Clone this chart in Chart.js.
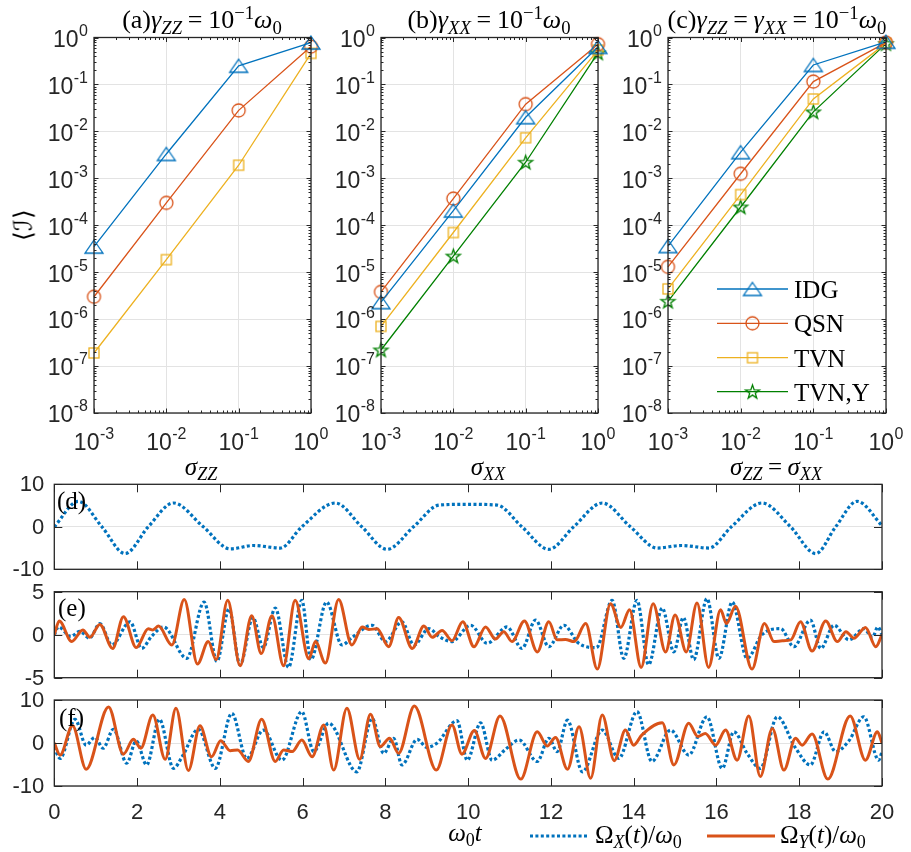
<!DOCTYPE html>
<html><head><meta charset="utf-8">
<script src="https://cdn.jsdelivr.net/npm/chart.js@4/dist/chart.umd.min.js"></script>
<style>
html,body{margin:0;padding:0;background:#fff;}
#wrap{position:relative;width:911px;height:852px;overflow:hidden;background:#fff;}
canvas{position:absolute;left:0;top:0;}
.t{position:absolute;font-family:"Liberation Serif","Times New Roman",serif;color:#000;white-space:nowrap;line-height:1;z-index:5;font-size:25px;}
.c{transform:translate(-50%,-50%);}
.l{transform:translate(0,-50%);}
.i{font-style:italic;}
.sb{font-size:72%;position:relative;top:0.3em;}
.sp{font-size:72%;position:relative;top:-0.5em;}
.eq{padding:0 0.22em;}
</style></head><body><div id="wrap">
<canvas id="ca" width="911" height="852"></canvas>
<canvas id="cb" width="911" height="852"></canvas>
<canvas id="cc" width="911" height="852"></canvas>
<canvas id="cd" width="911" height="852"></canvas>
<canvas id="ce" width="911" height="852"></canvas>
<canvas id="cf" width="911" height="852"></canvas>

<div class="t c" style="left:202px;top:20px;font-size:26px;">(a)<span class="i">γ</span><span class="sb i">ZZ</span><span class="eq">=</span>10<span class="sp">−1</span><span class="i">ω</span><span class="sb">0</span></div>
<div class="t c" style="left:489px;top:20px;font-size:26px;">(b)<span class="i">γ</span><span class="sb i">XX</span><span class="eq">=</span>10<span class="sp">−1</span><span class="i">ω</span><span class="sb">0</span></div>
<div class="t c" style="left:777px;top:20px;font-size:26px;">(c)<span class="i">γ</span><span class="sb i">ZZ</span><span class="eq">=</span><span class="i">γ</span><span class="sb i">XX</span><span class="eq">=</span>10<span class="sp">−1</span><span class="i">ω</span><span class="sb">0</span></div>
<div class="t c" style="left:23px;top:225px;font-size:25px;transform:translate(-50%,-50%) rotate(-90deg);">⟨ℐ⟩</div>
<div class="t c" style="left:201px;top:466px;"><span class="i">σ</span><span class="sb i">ZZ</span></div>
<div class="t c" style="left:488px;top:466px;"><span class="i">σ</span><span class="sb i">XX</span></div>
<div class="t c" style="left:776px;top:466px;"><span class="i">σ</span><span class="sb i">ZZ</span><span class="eq">=</span><span class="i">σ</span><span class="sb i">XX</span></div>
<div class="t l" style="left:794px;top:289px;">IDG</div>
<div class="t l" style="left:794px;top:323px;">QSN</div>
<div class="t l" style="left:794px;top:358px;">TVN</div>
<div class="t l" style="left:794px;top:392px;">TVN,Y</div>
<div class="t l" style="left:57px;top:500px;">(d)</div>
<div class="t l" style="left:58px;top:607px;">(e)</div>
<div class="t l" style="left:59px;top:717px;">(f)</div>
<div class="t c" style="left:465px;top:832px;"><span class="i">ω</span><span class="sb">0</span><span class="i">t</span></div>
<div class="t l" style="left:595px;top:834px;">Ω<span class="sb i">X</span>(<span class="i">t</span>)/<span class="i">ω</span><span class="sb">0</span></div>
<div class="t l" style="left:780px;top:834px;">Ω<span class="sb i">Y</span>(<span class="i">t</span>)/<span class="i">ω</span><span class="sb">0</span></div>
</div>
<script>
// ---------------- data ----------------
const sigma = [1e-3, 1e-2, 1e-1, 1];
const seriesNames = ['IDG', 'QSN', 'TVN', 'TVN,Y'];
const aIDG = [3.5e-5, 3.3e-3, 0.25, 0.78];
const aQSN = [3.0e-6, 3.0e-4, 0.028, 0.64];
const aTVN = [1.9e-7, 1.85e-5, 1.9e-3, 0.46];
const bIDG = [2.3e-6, 2.05e-4, 0.020, 0.63];
const bQSN = [3.8e-6, 3.7e-4, 0.038, 0.72];
const bTVN = [7.0e-7, 7.0e-5, 7.3e-3, 0.54];
const bTVNY = [2.2e-7, 2.2e-5, 2.2e-3, 0.47];
const cIDG = [3.6e-5, 3.6e-3, 0.26, 0.81];
const cQSN = [1.3e-5, 1.25e-3, 0.115, 0.78];
const cTVN = [4.4e-6, 4.5e-4, 0.049, 0.75];
const cTVNY = [2.4e-6, 2.45e-4, 0.026, 0.74];
const logYExps = [-8, -7, -6, -5, -4, -3, -2, -1, 0];
const logXExps = [-3, -2, -1, 0];
const timeTicks = [0, 2, 4, 6, 8, 10, 12, 14, 16, 18, 20];

// (d) Omega_X
const tD = [0, 0.58, 1.15, 1.71, 2.27, 2.88, 3.6, 4.25, 4.81, 5.46, 5.98, 6.79, 7.43, 8.04, 8.68, 9.3, 10.0, 10.7, 11.3, 11.95, 12.55, 13.24, 13.92, 14.57, 15.15, 15.82, 16.36, 17.1, 17.79, 18.4, 18.88, 19.4, 20];
const xD = [0, 6.0, 0, -6.3, 0, 5.6, 0, -5.2, -4.4, -5.0, 0, 5.6, 0, -5.3, 0, 5.1, 5.3, 5.1, 0, -5.3, 0, 5.6, 0, -5.0, -4.4, -5.0, 0, 5.6, 0, -6.3, 0, 6.0, 0.3];

// (e) Omega_X (dotted) and Omega_Y (solid)
const tEX = [0, 0.1, 0.4, 0.62, 0.85, 1.1, 1.39, 1.83, 2.11, 2.35, 2.64, 3.2, 3.62, 3.93, 4.22, 4.49, 4.8, 5.05, 5.34, 5.66, 5.98, 6.2, 6.58, 6.95, 7.2, 7.68, 8.0, 8.4, 8.69, 9.05, 9.3, 9.6, 10.06, 10.46, 10.94, 11.3, 11.63, 11.95, 12.31, 12.67, 13.1, 13.48, 13.76, 14.08, 14.36, 14.69, 14.97, 15.2, 15.45, 15.77, 16.06, 16.38, 16.74, 17.1, 17.55, 17.87, 18.27, 18.52, 18.84, 19.2, 19.56, 19.77, 19.9, 20];
const eX = [0, 0.9, -0.2, 0.4, -0.4, 1.3, -1.2, 1.5, -1.6, -0.2, 0.9, -2.75, 3.8, -3.1, 3.0, -3.5, 2.0, -1.5, 3.1, -3.8, 4.0, -2.9, 3.8, -1.2, -0.3, 1.1, -0.8, 1.5, -1.2, 0.7, -0.2, -0.8, 1.1, -1.0, 0.9, -1.6, 1.7, -1.4, 1.1, -1.0, -1.5, 4.0, -2.75, 4.0, -3.5, 3.1, -2.0, 2.0, -2.9, 4.2, -2.75, 3.8, -2.75, 0.0, 0.7, -1.4, 1.7, -1.6, 1.1, -0.6, 0.7, -0.3, 0.9, 0];
const tEY = [0, 0.12, 0.42, 0.69, 0.86, 1.1, 1.41, 1.67, 1.98, 2.27, 2.38, 2.52, 2.84, 3.14, 3.46, 3.72, 3.91, 4.19, 4.49, 4.77, 5.0, 5.26, 5.54, 5.82, 6.15, 6.31, 6.55, 6.87, 7.19, 7.44, 7.6, 7.8, 8.08, 8.32, 8.65, 8.93, 9.13, 9.37, 9.61, 9.87, 10.14, 10.42, 10.66, 10.86, 11.06, 11.36, 11.67, 11.95, 12.15, 12.35, 12.56, 12.84, 13.12, 13.44, 13.69, 13.9, 14.18, 14.47, 14.77, 15.0, 15.27, 15.53, 15.81, 16.1, 16.24, 16.46, 16.86, 17.16, 17.39, 17.59, 17.8, 18.03, 18.31, 18.64, 18.92, 19.13, 19.32, 19.6, 19.85, 20];
const eY = [0, 1.6, -0.8, 0.55, -0.3, 1.2, -1.6, 2.1, -1.5, 0.7, 0.55, 1.0, -1.2, 4.1, -3.4, -0.8, -2.9, 4.0, -3.6, 2.2, -2.2, 2.2, -3.6, 4.0, -2.8, -0.8, -3.3, 4.1, -1.2, 0.9, 0.6, 0.7, -1.4, 2.0, -1.6, 1.0, -0.3, 0.5, -0.7, 1.5, -1.4, 0.9, -0.5, 0.35, -0.8, 1.6, -2.0, 1.5, -0.6, -0.55, -0.8, 1.3, -4.0, 3.6, 0.85, 2.9, -3.8, 3.6, -2.0, 2.3, -2.0, 3.7, -3.8, 2.9, 1.3, 3.3, -4.0, 1.3, -0.8, -0.7, -0.6, 1.5, -1.9, 1.6, -0.8, 0.35, -0.4, 0.85, -1.4, 0];

// (f) Omega_X (dotted) and Omega_Y (solid)
const tFX = [0, 0.14, 0.5, 0.77, 0.98, 1.18, 1.43, 1.75, 1.98, 2.23, 2.54, 2.88, 3.1, 3.48, 3.89, 4.29, 4.65, 5.05, 5.5, 5.98, 6.27, 6.63, 7.31, 7.68, 7.96, 8.2, 8.4, 8.77, 9.0, 9.25, 9.73, 9.98, 10.3, 10.58, 10.9, 11.23, 11.67, 11.95, 12.15, 12.4, 12.76, 13.24, 13.64, 14.08, 14.44, 14.89, 15.33, 15.77, 16.14, 16.42, 16.74, 17.06, 17.47, 17.9, 18.27, 18.6, 18.88, 19.2, 19.56, 19.92, 20];
const fX = [-1.0, -3.6, 5.5, -0.5, 1.3, -1.2, 3.2, -4.7, 0.5, -5.1, 5.5, -5.9, -3.0, 3.2, -5.9, 6.9, -3.6, 3.0, -4.0, 7.3, -2.0, 4.6, -6.7, 5.7, -2.4, 1.1, -5.1, 0.85, -1.0, 0.0, 5.2, -4.0, 4.7, -4.0, -1.5, 0.7, -4.3, 1.1, -2.0, 5.3, -6.7, 3.0, -3.6, 7.3, -4.3, 3.0, -2.8, 6.1, -5.9, 2.6, -2.4, -5.9, 6.1, -1.0, -5.1, 2.6, -2.0, 0.5, 6.1, -4.0, -2.0];
const tFY = [0, 0.14, 0.44, 0.77, 1.31, 1.67, 1.91, 2.09, 2.38, 2.68, 2.94, 3.24, 3.52, 3.8, 4.02, 4.25, 4.43, 4.69, 5.01, 5.34, 5.54, 5.75, 5.98, 6.23, 6.51, 6.75, 7.07, 7.38, 7.64, 7.88, 8.1, 8.32, 8.7, 9.23, 9.61, 9.85, 10.15, 10.42, 10.77, 11.27, 11.67, 11.91, 12.11, 12.4, 12.68, 12.96, 13.24, 13.53, 13.8, 14.0, 14.2, 14.69, 14.97, 15.33, 15.55, 15.73, 15.98, 16.22, 16.5, 16.78, 17.06, 17.35, 17.63, 17.91, 18.07, 18.31, 18.69, 19.23, 19.6, 19.89, 20];
const fY = [0, -2.8, 4.0, -6.1, 8.4, -2.6, 0.85, -1.2, 6.5, -3.8, 8.1, -6.4, 4.0, -3.2, 0.5, -1.8, -1.6, -4.3, 5.5, -4.3, -1.6, -2.0, 0.7, -3.2, 4.2, -6.3, 8.1, -3.8, 6.7, -0.85, 1.1, -2.4, 8.6, -6.3, 4.2, -2.6, 2.9, -3.6, 6.3, -8.4, 2.6, -0.7, 1.3, -6.1, 3.8, -8.2, 6.5, -4.1, 3.0, -0.5, 1.9, 4.7, -5.1, 4.6, 1.5, 2.2, -0.5, 3.0, -4.0, 6.3, -7.8, 3.4, -6.3, 1.1, -0.5, 2.1, -8.4, 6.3, -4.0, 2.6, 0];

// ---------------- styling ----------------
const BLUE = '#0072BD', RED = '#D95319', YEL = '#EDB120', GRN = '#008000';
const GRID = '#e3e3e3', AXC = '#262626';
const SANS = "'Liberation Sans', Arial, sans-serif";
const W = 911, H = 852;
const BOX = {
  ca: {l: 94, r: 311, t: 37.5, b: 413},
  cb: {l: 381, r: 598, t: 37.5, b: 413},
  cc: {l: 668, r: 886, t: 37.5, b: 413},
  cd: {l: 54.3, r: 882, t: 484.3, b: 569.3},
  ce: {l: 54.3, r: 882, t: 591.7, b: 677.7},
  cf: {l: 54.3, r: 882, t: 700, b: 786}
};

function mk(w, h, draw) { const c = document.createElement('canvas'); c.width = w; c.height = h; const g = c.getContext('2d'); draw(g); return c; }
const markTri = mk(22, 17, g => { g.strokeStyle = BLUE; g.lineWidth = 1.3; g.beginPath(); g.moveTo(11, 2); g.lineTo(20, 15); g.lineTo(2, 15); g.closePath(); g.stroke(); });
const markCirc = mk(17, 17, g => { g.strokeStyle = RED; g.lineWidth = 1.3; g.beginPath(); g.arc(8.5, 8.5, 6.5, 0, Math.PI * 2); g.stroke(); });
const markSq = mk(14, 14, g => { g.strokeStyle = YEL; g.lineWidth = 1.3; g.strokeRect(2, 2, 10, 10); });
const markStar = mk(19, 19, g => {
  g.strokeStyle = GRN; g.lineWidth = 1.3; g.beginPath();
  for (let k = 0; k < 10; k++) { const r = k % 2 ? 2.9 : 7.3; const ang = -Math.PI / 2 + k * Math.PI / 5; const x = 9.5 + r * Math.cos(ang), y = 10 + r * Math.sin(ang); k ? g.lineTo(x, y) : g.moveTo(x, y); }
  g.closePath(); g.stroke();
});
const STY = {IDG: [BLUE, markTri], QSN: [RED, markCirc], TVN: [YEL, markSq], 'TVN,Y': [GRN, markStar]};

function decadeTicks(exps) { return exps.map(e => Math.pow(10, e)); }
function minorTicks(e0, e1) { const r = []; for (let e = e0; e < e1; e++) for (let k = 2; k <= 9; k++) r.push(k * Math.pow(10, e)); return r; }

function drawPow(ctx, exp, x, y, align) {
  const bf = '23px ' + SANS, ef = '16px ' + SANS;
  ctx.font = bf; const bw = ctx.measureText('10').width;
  const es = String(exp);
  ctx.font = ef; const ew = ctx.measureText(es).width;
  const tw = bw + ew + 0.5;
  const x0 = align === 'right' ? x - tw : x - tw / 2;
  ctx.textAlign = 'left'; ctx.textBaseline = 'middle';
  ctx.font = bf; ctx.fillText('10', x0, y);
  ctx.font = ef; ctx.fillText(es, x0 + bw + 0.5, y - 9);
}

const FRAME = {};
const EXTRA = {};
const framePlugin = {
  id: 'frame',
  afterDraw(chart) {
    const o = FRAME[chart.canvas.id]; if (!o) return;
    const c = chart.ctx, a = chart.chartArea, xs = chart.scales.x, ys = chart.scales.y;
    c.save();
    c.strokeStyle = AXC; c.lineWidth = 1;
    c.beginPath();
    const xt = (vals, len) => vals.forEach(v => { const p = Math.round(xs.getPixelForValue(v)) + 0.5; c.moveTo(p, a.bottom); c.lineTo(p, a.bottom - len); c.moveTo(p, a.top); c.lineTo(p, a.top + len); });
    const yt = (vals, len) => vals.forEach(v => { const p = Math.round(ys.getPixelForValue(v)) + 0.5; c.moveTo(a.left, p); c.lineTo(a.left + len, p); c.moveTo(a.right, p); c.lineTo(a.right - len, p); });
    xt(o.xMajor, o.majLen); yt(o.yMajor, o.majLen);
    if (o.xMinor) xt(o.xMinor, o.minLen);
    if (o.yMinor) yt(o.yMinor, o.minLen);
    c.stroke();
    c.lineWidth = 1.3; c.strokeRect(a.left, a.top, a.right - a.left, a.bottom - a.top);
    c.fillStyle = AXC;
    if (o.log) {
      o.yMajor.forEach(v => drawPow(c, Math.round(Math.log10(v)), a.left - 6, ys.getPixelForValue(v) + 3, 'right'));
      o.xMajor.forEach(v => drawPow(c, Math.round(Math.log10(v)), xs.getPixelForValue(v), a.bottom + 31, 'center'));
    } else {
      c.font = '22px ' + SANS; c.textAlign = 'right'; c.textBaseline = 'middle';
      o.yMajor.forEach(v => c.fillText(String(v), a.left - 10, ys.getPixelForValue(v) + 1));
      if (o.xLabels) { c.textAlign = 'center'; o.xMajor.forEach(v => c.fillText(String(v), xs.getPixelForValue(v), a.bottom + 27)); }
    }
    if (EXTRA[chart.canvas.id]) EXTRA[chart.canvas.id](c, a);
    c.restore();
  }
};

function baseOpts(id) {
  const b = BOX[id];
  return {
    responsive: false, animation: false, devicePixelRatio: 1, events: [],
    layout: {autoPadding: false, padding: {left: b.l, top: b.t, right: W - b.r, bottom: H - b.b}},
    plugins: {legend: {display: false}, tooltip: {enabled: false}}
  };
}

function topChart(id, list) {
  const opts = baseOpts(id);
  opts.scales = {
    x: {type: 'logarithmic', min: 1e-3, max: 1, afterBuildTicks: s => { s.ticks = decadeTicks(logXExps).map(v => ({value: v})); }, afterFit: s => { s.height = 0; },
        ticks: {display: false}, grid: {color: GRID, drawTicks: false, lineWidth: 1}, border: {display: false}},
    y: {type: 'logarithmic', min: 1e-8, max: 1, afterBuildTicks: s => { s.ticks = decadeTicks(logYExps).map(v => ({value: v})); }, afterFit: s => { s.width = 0; },
        ticks: {display: false}, grid: {color: GRID, drawTicks: false, lineWidth: 1}, border: {display: false}}
  };
  FRAME[id] = {log: true, xMajor: decadeTicks(logXExps), yMajor: decadeTicks(logYExps), xMinor: minorTicks(-3, 0), yMinor: minorTicks(-8, 0), majLen: 4.5, minLen: 2.5};
  return new Chart(document.getElementById(id), {
    type: 'line',
    data: {datasets: list.map(([name, vals]) => ({
      label: name, data: sigma.map((x, i) => ({x, y: vals[i]})),
      borderColor: STY[name][0], borderWidth: 1.3, pointStyle: STY[name][1], pointRadius: 6,
      pointBackgroundColor: 'rgba(0,0,0,0)', pointBorderColor: STY[name][0], fill: false, clip: false, tension: 0
    }))},
    options: opts, plugins: [framePlugin]
  });
}

function botChart(id, series, ymax, xLabels) {
  const opts = baseOpts(id);
  opts.scales = {
    x: {type: 'linear', min: 0, max: 20, afterFit: s => { s.height = 0; }, ticks: {display: false, stepSize: 2}, grid: {display: false}, border: {display: false}},
    y: {type: 'linear', min: -ymax, max: ymax, afterFit: s => { s.width = 0; }, ticks: {display: false, stepSize: ymax}, grid: {color: GRID, drawTicks: false, lineWidth: 1}, border: {display: false}}
  };
  FRAME[id] = {log: false, xMajor: timeTicks, yMajor: [-ymax, 0, ymax], majLen: 8, xLabels};
  return new Chart(document.getElementById(id), {
    type: 'line',
    data: {datasets: series.map(s => ({
      data: s.t.map((t, i) => ({x: t, y: s.v[i]})),
      borderColor: s.dotted ? BLUE : RED, borderWidth: s.dotted ? 3.2 : 3, borderDash: s.dotted ? [3, 2.4] : [],
      borderCapStyle: 'butt', pointRadius: 0, fill: false, cubicInterpolationMode: 'monotone', order: s.dotted ? 1 : 0
    }))},
    options: opts, plugins: [framePlugin]
  });
}

// legend for panel (c)
EXTRA.cc = (c) => {
  const rows = [289, 323.3, 357.7, 391.7];
  seriesNames.forEach((n, i) => {
    const y = rows[i];
    c.strokeStyle = STY[n][0]; c.lineWidth = 1.3; c.setLineDash([]);
    c.beginPath(); c.moveTo(717, y); c.lineTo(788, y); c.stroke();
    const m = STY[n][1]; c.drawImage(m, 752.5 - m.width / 2, y - m.height / 2);
  });
};
// legend at the bottom
EXTRA.cf = (c) => {
  c.lineCap = 'butt';
  c.strokeStyle = BLUE; c.lineWidth = 3.2; c.setLineDash([3, 2.4]);
  c.beginPath(); c.moveTo(530, 836); c.lineTo(588, 836); c.stroke();
  c.setLineDash([]); c.strokeStyle = RED; c.lineWidth = 3;
  c.beginPath(); c.moveTo(707, 836); c.lineTo(775, 836); c.stroke();
};

topChart('ca', [['IDG', aIDG], ['QSN', aQSN], ['TVN', aTVN]]);
topChart('cb', [['IDG', bIDG], ['QSN', bQSN], ['TVN', bTVN], ['TVN,Y', bTVNY]]);
topChart('cc', [['IDG', cIDG], ['QSN', cQSN], ['TVN', cTVN], ['TVN,Y', cTVNY]]);
botChart('cd', [{t: tD, v: xD, dotted: true}], 10, false);
botChart('ce', [{t: tEY, v: eY, dotted: false}, {t: tEX, v: eX, dotted: true}], 5, false);
botChart('cf', [{t: tFY, v: fY, dotted: false}, {t: tFX, v: fX, dotted: true}], 10, true);
</script></body></html>
